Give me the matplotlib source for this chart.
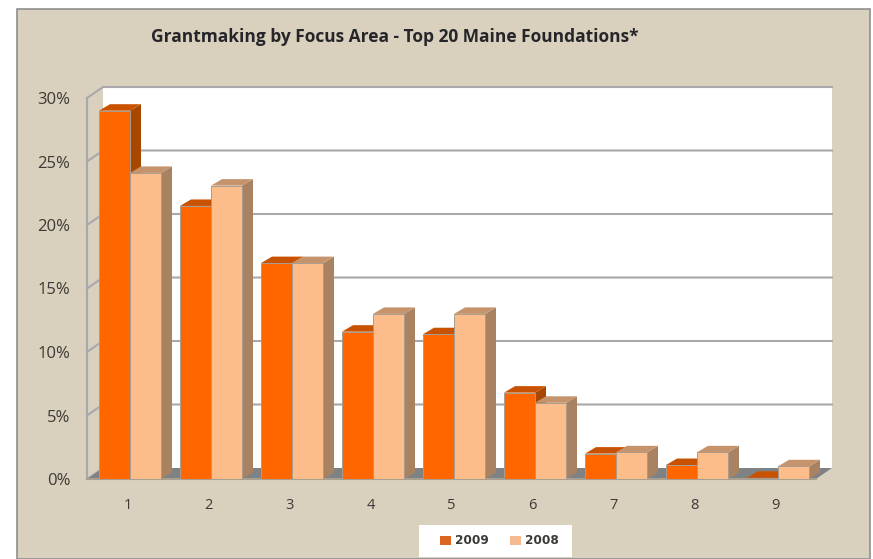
import numpy as np
import matplotlib
matplotlib.use('Agg')
import matplotlib.pyplot as plt
from matplotlib.patches import Polygon, Rectangle, Patch

categories = ['1', '2', '3', '4', '5', '6', '7', '8', '9']
values_2009 = [29.0, 21.5, 17.0, 11.6, 11.4, 6.8, 2.0, 1.1, 0.1]
values_2008 = [24.1, 23.1, 17.0, 13.0, 13.0, 6.0, 2.1, 2.1, 1.0]
yticks = [0, 5, 10, 15, 20, 25, 30]
title = 'Grantmaking by Focus Area - Top 20 Maine Foundations*'

W, H = 873, 559
plt.rcParams['font.family'] = ['Open Sans', 'DejaVu Sans']

PANEL = '#d9d0bd'
GRID = '#a8a8ad'
TEXT = '#3c3a36'

fig = plt.figure(figsize=(W / 100, H / 100), dpi=100, facecolor='white')

# beige chart area, pixel box from the reference
fig.patches.append(Rectangle((17 / W, 0), (870 - 17) / W, (H - 9) / H, transform=fig.transFigure,
                             facecolor=PANEL, edgecolor='#8f8f8f', linewidth=1.2, zorder=-1))
# white box behind the legend
fig.patches.append(Rectangle((419 / W, 1 - 557 / H), 153 / W, 32 / H, transform=fig.transFigure,
                             facecolor='white', edgecolor='none', zorder=-0.5))

# plot box = front plane of the 3d chart
left, right, bottom, top = 87, 816, 479, 98
ax = fig.add_axes([left / W, 1 - bottom / H, (right - left) / W, (bottom - top) / H])
ax.set_xlim(0.5, 9.5)
ax.set_ylim(0, 30)
ax.patch.set_alpha(0)
for s in ax.spines.values():
    s.set_visible(False)

px = 9 / (right - left)   # one pixel in x data units
py = 30 / (bottom - top)  # one pixel in y data units
wall_dx, wall_dy = 16 * px, 11 * py
bar_dx, bar_dy = 11 * px, 6.5 * py

def poly(pts, color, z, edge='none', lw=0):
    ax.add_patch(Polygon(pts, closed=True, facecolor=color, edgecolor=edge, linewidth=lw,
                         zorder=z, clip_on=False))

x0, x1 = 0.5, 9.5
# wall
poly([(x0 + wall_dx, wall_dy), (x1 + wall_dx, wall_dy), (x1 + wall_dx, 30 + wall_dy), (x0 + wall_dx, 30 + wall_dy)],
     'white', 1)
# floor
poly([(x0, 0), (x1, 0), (x1 + wall_dx, wall_dy), (x0 + wall_dx, wall_dy)], '#7f8285', 2)
ax.plot([x0, x1], [0, 0], color='#a89f90', lw=1.5, zorder=2.1, clip_on=False)

# gridlines, on the wall and the left side
for v in yticks[1:]:
    ax.plot([x0, x0 + wall_dx, x1 + wall_dx], [v, v + wall_dy, v + wall_dy], color=GRID, lw=1.5,
            zorder=1.5, clip_on=False, solid_joinstyle='miter')
ax.plot([x0, x0], [0, 30], color=GRID, lw=1.5, zorder=1.5, clip_on=False)
ax.plot([x0, x0 + wall_dx], [0, wall_dy], color=GRID, lw=1.2, zorder=1.5, clip_on=False)

x = np.arange(1, 10)
bw = 31 * px
shift = 2.5 * px

series = [(values_2009, x + shift - bw / 2, '#ff6600', '#c95200', '#a84700'),
          (values_2008, x + shift + bw / 2, '#fdbd8a', '#c6946c', '#a98261')]

for i, (vals, pos, front, topc, side) in enumerate(series):
    for j, (p, v) in enumerate(zip(pos, vals)):
        z = 3 + j * 2 + i
        l, r = p - bw / 2, p + bw / 2
        poly([(r, 0), (r + bar_dx, bar_dy), (r + bar_dx, v + bar_dy), (r, v)], side, z)
        poly([(l, v), (r, v), (r + bar_dx, v + bar_dy), (l + bar_dx, v + bar_dy)], topc, z)
        ax.bar(p, v, width=bw, color=front, edgecolor='#a89c8f', linewidth=0.7, zorder=z + 0.5)

ax.set_xticks(x)
ax.set_xticklabels(categories)
ax.set_yticks(yticks)
ax.set_yticklabels([str(v) + '%' for v in yticks])
ax.tick_params(axis='both', length=0, labelcolor=TEXT)
ax.tick_params(axis='x', pad=14, labelsize=10.5)
ax.tick_params(axis='y', pad=12, labelsize=12)

fig.text(395 / W, 1 - 37 / H, title, ha='center', va='center', fontsize=12.5, fontweight='bold', color='#26262a')

handles = [Patch(facecolor='#dc6620', label='2009'), Patch(facecolor='#f4ba90', label='2008')]
fig.legend(handles=handles, loc='center', bbox_to_anchor=(499.5 / W, 1 - 541 / H), ncol=2, frameon=False,
           prop={'family': 'DejaVu Sans', 'weight': 'bold', 'size': 8.7},
           handlelength=0.9, handleheight=0.8, handletextpad=0.4, columnspacing=1.7,
           borderpad=0, labelcolor=TEXT)

fig.savefig('out.png', dpi=100)
